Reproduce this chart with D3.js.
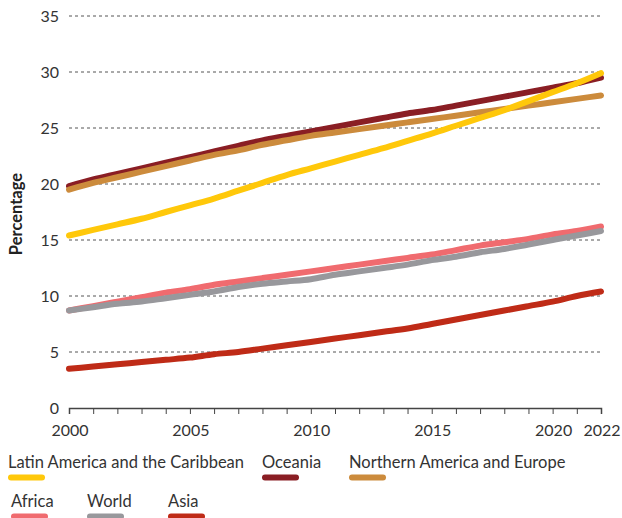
<!DOCTYPE html>
<html>
<head>
<meta charset="utf-8">
<script src="https://cdn.jsdelivr.net/npm/d3@7"></script>
<style>
  html, body { margin: 0; padding: 0; background: #fff; }
  svg { display: block; font-family: Lato, "Open Sans", sans-serif; }
</style>
</head>
<body>
<svg id="chart" width="622" height="518"></svg>
<script>
const years = d3.range(2000, 2023);
const xTickLabels = [2000, 2005, 2010, 2015, 2020, 2022];
const yTicks = [0, 5, 10, 15, 20, 25, 30, 35];

const latinAmerica = [15.4, 15.9, 16.4, 16.9, 17.5, 18.1, 18.7, 19.4, 20.1, 20.8, 21.4, 22.0, 22.6, 23.2, 23.85, 24.5, 25.2, 25.9, 26.6, 27.4, 28.2, 29.0, 29.9];
const oceania = [19.8, 20.4, 20.9, 21.4, 21.9, 22.4, 22.9, 23.4, 23.9, 24.3, 24.7, 25.1, 25.5, 25.9, 26.3, 26.6, 27.0, 27.4, 27.8, 28.2, 28.6, 29.0, 29.5];
const northAmEurope = [19.5, 20.1, 20.6, 21.1, 21.6, 22.1, 22.6, 23.0, 23.5, 23.9, 24.3, 24.6, 24.9, 25.2, 25.5, 25.8, 26.1, 26.4, 26.7, 27.0, 27.3, 27.6, 27.9];
const africa = [8.7, 9.1, 9.5, 9.9, 10.3, 10.6, 11.0, 11.3, 11.6, 11.9, 12.2, 12.5, 12.8, 13.1, 13.4, 13.7, 14.1, 14.5, 14.8, 15.1, 15.5, 15.8, 16.2];
const world = [8.7, 9.0, 9.3, 9.5, 9.8, 10.1, 10.4, 10.8, 11.1, 11.3, 11.5, 11.9, 12.2, 12.5, 12.8, 13.2, 13.5, 13.9, 14.2, 14.6, 15.0, 15.4, 15.8];
const asia = [3.5, 3.7, 3.9, 4.1, 4.3, 4.5, 4.8, 5.0, 5.3, 5.6, 5.9, 6.2, 6.5, 6.8, 7.1, 7.5, 7.9, 8.3, 8.7, 9.1, 9.5, 10.0, 10.4];

const seriesNames = ["Latin America and the Caribbean", "Oceania", "Northern America and Europe", "Africa", "World", "Asia"];
const seriesValues = [latinAmerica, oceania, northAmEurope, africa, world, asia];
const seriesColors = ["#FFC80A", "#8A1E24", "#CC8B3C", "#F06B6F", "#98989C", "#BF2B17"];
const drawOrder = [3, 4, 5, 1, 2, 0];

const svg = d3.select("#chart");
const x = d3.scaleLinear().domain([2000, 2022]).range([69, 601]);
const y = d3.scaleLinear().domain([0, 35]).range([408, 16]);

// gridlines
svg.append("g").selectAll("line").data(yTicks.filter(d => d > 0)).join("line")
  .attr("x1", x(2000)).attr("x2", x(2022))
  .attr("y1", d => y(d)).attr("y2", d => y(d))
  .attr("stroke", "#555").attr("stroke-width", 1).attr("stroke-dasharray", "3,3");

// y labels
svg.append("g").selectAll("text").data(yTicks).join("text")
  .attr("x", 59).attr("y", d => y(d)).attr("dy", "0.35em")
  .attr("text-anchor", "end").attr("font-size", 16).attr("fill", "#333")
  .text(d => d);

// y title
svg.append("text")
  .attr("transform", `translate(22,${214}) rotate(-90)`)
  .attr("text-anchor", "middle").attr("font-size", 16.5).attr("font-weight", "bold").attr("fill", "#222")
  .text("Percentage");

// x axis
const xAxis = d3.axisBottom(x).tickValues(years).tickSize(6).tickFormat("");
const gx = svg.append("g").attr("transform", `translate(0,${y(0)})`).call(xAxis);
gx.select(".domain").attr("stroke", "#444").attr("stroke-width", 1.5);
gx.selectAll(".tick line").attr("stroke", "#444").attr("stroke-width", 1);

svg.append("g").selectAll("text").data(xTickLabels).join("text")
  .attr("x", d => x(d) + 1).attr("y", 436)
  .attr("text-anchor", "middle").attr("font-size", 16).attr("fill", "#333")
  .text(d => d);

// lines
const line = d3.line().x((d, i) => x(years[i])).y(d => y(d)).curve(d3.curveMonotoneX);
svg.append("g").selectAll("path").data(drawOrder).join("path")
  .attr("d", i => line(seriesValues[i]))
  .attr("fill", "none").attr("stroke", i => seriesColors[i])
  .attr("stroke-width", 6).attr("stroke-linecap", "round").attr("stroke-linejoin", "round");

// legend
const legendPos = [[8, 468], [262, 468], [349, 468], [11, 507], [87, 507], [168, 507]];
const lg = svg.append("g").selectAll("g").data(seriesNames).join("g")
  .attr("transform", (d, i) => `translate(${legendPos[i][0]},${legendPos[i][1]})`);
lg.append("text").attr("x", 0).attr("y", 0).attr("font-size", 16.5).attr("fill", "#333").text(d => d);
lg.append("line").attr("x1", 3).attr("x2", 34).attr("y1", 9.5).attr("y2", 9.5)
  .attr("stroke", (d, i) => seriesColors[i]).attr("stroke-width", 6).attr("stroke-linecap", "round");
</script>
</body>
</html>
